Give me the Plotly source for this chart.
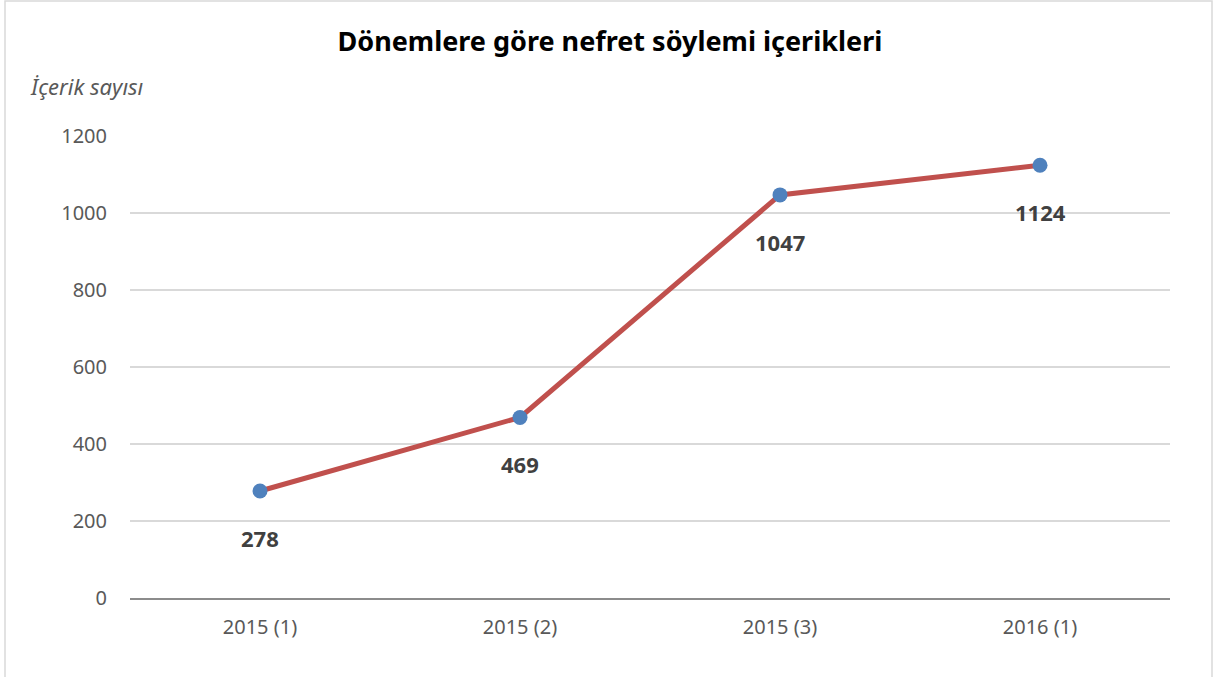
import plotly.graph_objects as go

categories = ["2015 (1)", "2015 (2)", "2015 (3)", "2016 (1)"]
values = [278, 469, 1047, 1124]
y_ticks = [0, 200, 400, 600, 800, 1000, 1200]

FONT = "Noto Sans"
W, H = 1215, 677
L, R, T, B = 130, 45, 136, 79
pw = W - L - R
ph = H - T - B

fig = go.Figure()
fig.add_trace(go.Scatter(
    x=categories, y=values, mode="lines+markers",
    line=dict(color="#c0504d", width=5),
    marker=dict(color="#4f81bd", size=15),
    hoverinfo="x+y", showlegend=False,
))

for c, v in zip(categories, values):
    fig.add_annotation(x=c, y=v, text=f"<b>{v}</b>", showarrow=False,
                       yshift=-47, font=dict(family=FONT, size=22, color="#404040"))

fig.add_annotation(xref="paper", yref="paper", x=(28 - L) / pw, y=1 + (T - 86) / ph,
                   xanchor="left", yanchor="middle", showarrow=False,
                   text="<i>İçerik sayısı</i>", font=dict(family=FONT, size=22, color="#595959"))

fig.add_shape(type="rect", xref="paper", yref="paper",
              x0=(5 - L) / pw, x1=(1212 - L) / pw,
              y0=-(B + 5) / ph, y1=1 + (T - 1) / ph,
              line=dict(color="#d9d9d9", width=1.5), layer="below")

fig.update_layout(
    width=W, height=H,
    margin=dict(l=L, r=R, t=T, b=B),
    paper_bgcolor="white", plot_bgcolor="white",
    title=dict(text="<b>Dönemlere göre nefret söylemi içerikleri</b>", x=0.502, xanchor="center",
               y=1 - 42 / H, yanchor="middle",
               font=dict(family=FONT, size=27, color="#000000")),
    xaxis=dict(type="category", range=[-0.5, 3.5], showgrid=False,
               showline=True, linecolor="#8c8c8c", linewidth=2,
               tickfont=dict(family=FONT, size=20, color="#595959"), ticks="",
               ticklabelstandoff=10),
    yaxis=dict(range=[0, 1200], tickvals=y_ticks, showgrid=True, gridcolor="#d9d9d9",
               gridwidth=1.5, zeroline=False, showline=False, ticks="",
               tickfont=dict(family=FONT, size=20, color="#595959"),
               ticklabelstandoff=22),
)

fig.write_html("out.html", config={"displayModeBar": False},
               post_script="document.body.style.margin='0';")
